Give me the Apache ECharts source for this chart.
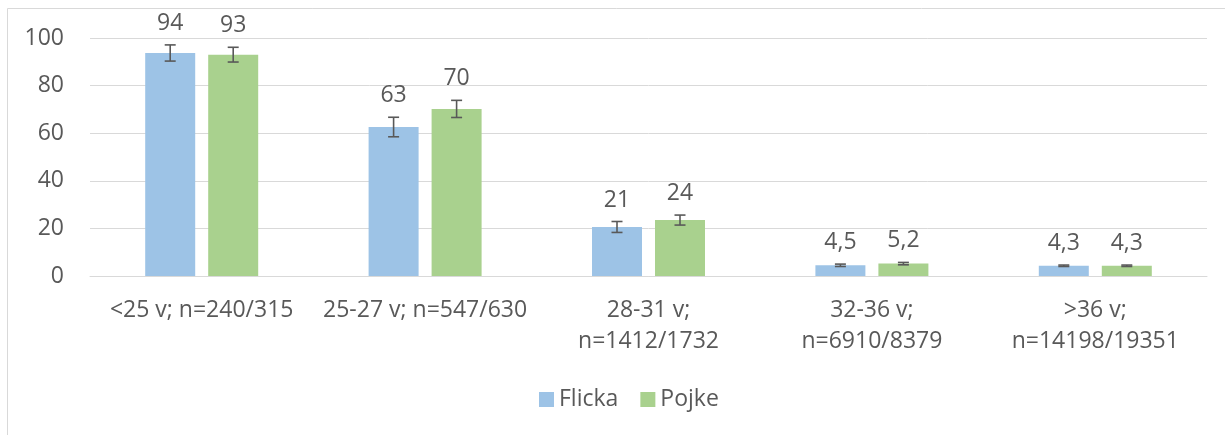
<!DOCTYPE html>
<html>
<head>
<meta charset="utf-8">
<script src="https://cdn.jsdelivr.net/npm/echarts@6/dist/echarts.min.js"></script>
<style>
  html, body { margin: 0; padding: 0; background: #fff; }
  #main { width: 1225px; height: 435px; }
</style>
</head>
<body>
<div id="main"></div>
<script>
// data
var categories = ['<25 v; n=240/315', '25-27 v; n=547/630', '28-31 v;\nn=1412/1732', '32-36 v;\nn=6910/8379', '>36 v;\nn=14198/19351'];
var flicka = [93.7, 62.6, 20.6, 4.5, 4.3];
var pojke = [93.0, 70.2, 23.5, 5.2, 4.3];
var flickaErr = [3.4, 4.1, 2.3, 0.5, 0.3];
var pojkeErr = [3.1, 3.6, 2.1, 0.5, 0.3];

var FONT = 'Open Sans';
var TEXT = '#595959';
var FS = 23;
var BAR_W = 50;
var SHIFT = 31.5; // half bar + half gap

function fmt(v) {
    if (v >= 10) return String(Math.round(v));
    return v.toFixed(1).replace('.', ',');
}

function errorSeries(name, vals, errs, dir) {
    var data = [];
    for (var i = 0; i < vals.length; i++) {
        data.push([i, vals[i], errs[i]]);
    }
    return {
        name: name + '_err',
        type: 'custom',
        z: 5,
        silent: true,
        data: data,
        renderItem: function (params, api) {
            var i = api.value(0), v = api.value(1), e = api.value(2);
            var top = api.coord([i, v + e]);
            var bot = api.coord([i, v - e]);
            var x = top[0] + dir * SHIFT;
            var cap = 5.5;
            var st = { stroke: '#595959', lineWidth: 1.6 };
            return {
                type: 'group',
                children: [
                    { type: 'line', shape: { x1: x, y1: top[1], x2: x, y2: bot[1] }, style: st },
                    { type: 'line', shape: { x1: x - cap, y1: top[1], x2: x + cap, y2: top[1] }, style: st },
                    { type: 'line', shape: { x1: x - cap, y1: bot[1], x2: x + cap, y2: bot[1] }, style: st },
                    {
                        type: 'text',
                        style: {
                            x: x, y: top[1] - 10,
                            text: fmt(v),
                            fill: TEXT,
                            font: FS + 'px ' + FONT,
                            textAlign: 'center',
                            textVerticalAlign: 'bottom'
                        }
                    }
                ]
            };
        }
    };
}

var myChart = echarts.init(document.getElementById('main'));
var option = {
    animation: false,
    backgroundColor: '#fff',
    textStyle: { fontFamily: FONT },
    graphic: [{
        type: 'rect',
        shape: { x: 7.5, y: 8.5, width: 1400, height: 600 },
        style: { fill: 'none', stroke: '#d9d9d9', lineWidth: 1 },
        silent: true
    }],
    legend: {
        data: ['Flicka', 'Pojke'],
        top: 383,
        left: 534,
        itemWidth: 15,
        itemHeight: 15,
        itemGap: 22,
        icon: 'rect',
        textStyle: { color: TEXT, fontSize: FS, fontFamily: FONT }
    },
    grid: { left: 90, right: 18, top: 38, bottom: 159 },
    xAxis: {
        type: 'category',
        data: categories,
        axisLine: { lineStyle: { color: '#d9d9d9', width: 1 } },
        axisTick: { show: false },
        axisLabel: { color: TEXT, fontSize: FS, fontFamily: FONT, margin: 19, lineHeight: 31, interval: 0 }
    },
    yAxis: {
        type: 'value',
        min: 0,
        max: 100,
        interval: 20,
        axisLine: { show: false },
        axisTick: { show: false },
        splitLine: { lineStyle: { color: '#d9d9d9', width: 1 } },
        axisLabel: { color: TEXT, fontSize: FS, fontFamily: FONT, margin: 26 }
    },
    series: [
        {
            name: 'Flicka', type: 'bar', data: flicka,
            barWidth: BAR_W, barGap: '26%',
            itemStyle: { color: '#9dc3e6' }
        },
        {
            name: 'Pojke', type: 'bar', data: pojke,
            barWidth: BAR_W, barGap: '26%',
            itemStyle: { color: '#a9d18e' }
        },
        errorSeries('Flicka', flicka, flickaErr, -1),
        errorSeries('Pojke', pojke, pojkeErr, 1)
    ]
};
myChart.setOption(option);
</script>
</body>
</html>
